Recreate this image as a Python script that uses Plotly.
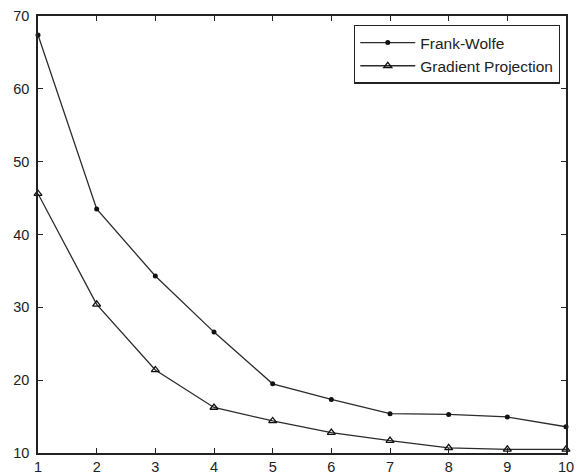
import plotly.graph_objects as go

iterations = [1, 2, 3, 4, 5, 6, 7, 8, 9, 10]
frank_wolfe = [67.4, 43.5, 34.3, 26.6, 19.5, 17.35, 15.4, 15.3, 14.95, 13.6]
gradient_projection = [45.6, 30.4, 21.4, 16.25, 14.4, 12.8, 11.7, 10.7, 10.5, 10.5]
x_ticks = [1, 2, 3, 4, 5, 6, 7, 8, 9, 10]
y_ticks = [10, 20, 30, 40, 50, 60, 70]

line_color = "#2b2b2b"
fig = go.Figure()
fig.add_trace(go.Scatter(
    x=iterations, y=frank_wolfe, mode="lines+markers", name="Frank-Wolfe",
    line=dict(color=line_color, width=1.3),
    marker=dict(symbol="circle", size=5, color="#111111"),
    cliponaxis=False,
))
fig.add_trace(go.Scatter(
    x=iterations, y=gradient_projection, mode="lines+markers", name="Gradient Projection",
    line=dict(color=line_color, width=1.3),
    marker=dict(symbol="triangle-up-open", size=7, color="#111111", line=dict(width=1.3)),
    cliponaxis=False,
))

axis_common = dict(
    showgrid=False, zeroline=False, showline=True, linecolor="#222222", linewidth=1.5,
    mirror="ticks", ticks="inside", ticklen=5, tickwidth=1, tickcolor="#222222",
    automargin=False,
    tickfont=dict(family="Liberation Sans, Arial, sans-serif", size=14.5, color="#222222"),
)
fig.update_xaxes(range=[1, 10], tickvals=x_ticks, ticklabelstandoff=0, **axis_common)
fig.update_yaxes(range=[10, 70], tickvals=y_ticks, ticklabelstandoff=4, **axis_common)

fig.update_layout(
    width=578, height=475,
    margin=dict(l=38, r=12, t=16, b=22),
    plot_bgcolor="white", paper_bgcolor="white",
    showlegend=True,
    legend=dict(
        x=0.9886, y=0.98, xanchor="right", yanchor="top",
        bgcolor="white", bordercolor="#222222", borderwidth=1.3,
        font=dict(family="Liberation Sans, Arial, sans-serif", size=15.5, color="#222222"),
        tracegroupgap=0, itemwidth=55,
    ),
)
fig.write_html("out.html")
